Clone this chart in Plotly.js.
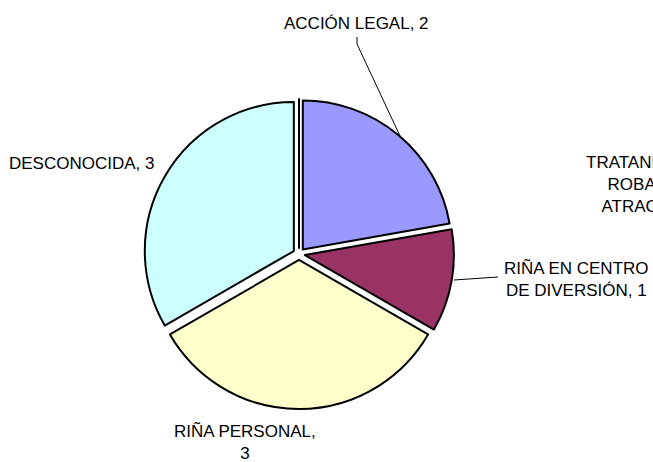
<!DOCTYPE html>
<html>
<head>
<meta charset="utf-8">
<script src="https://cdn.plot.ly/plotly-3.0.1.min.js"></script>
<style>html,body{margin:0;padding:0;background:#fff;}#chart{width:653px;height:462px;}</style>
</head>
<body>
<div id="chart"></div>
<script>
var categories = ["ACCIÓN LEGAL", "RIÑA EN CENTRO DE DIVERSIÓN", "RIÑA PERSONAL", "DESCONOCIDA", "TRATANDO DE ROBAR Y ATRACO"];
var values = [2, 1, 3, 3, 0];
var colors = ["#9999FF", "#993366", "#FFFFCC", "#CCFFFF", "#FF8080"];
// label text with line breaks as laid out in the reference
var labelLines = [
  ["ACCIÓN LEGAL, {v}"],
  ["RIÑA EN CENTRO", "DE DIVERSIÓN, {v}"],
  ["RIÑA PERSONAL,", "{v}"],
  ["DESCONOCIDA, {v}"],
  ["TRATANDO DE", "ROBAR Y", "ATRACO, {v}"]
];
// label anchor positions (pixels in the 653x462 page)
var labelPos = [[357, 23], [576, 279], [245, 442], [82, 163], [645, 185]];

var W = 653, H = 462;
function px(x){ return x / W; }
function py(y){ return 1 - y / H; }

var annotations = categories.map(function(c, i){
  return {
    xref: 'paper', yref: 'paper',
    x: px(labelPos[i][0]), y: py(labelPos[i][1]),
    xanchor: 'center', yanchor: 'middle',
    text: labelLines[i].map(function(s){ return s.replace('{v}', values[i]); }).join('<br>'),
    showarrow: false,
    align: 'center',
    font: {family: 'Liberation Sans, Arial, sans-serif', size: 17, color: '#000'}
  };
});

var shapes = [
  {type: 'path', xref: 'paper', yref: 'paper',
   path: 'M ' + px(357) + ' ' + py(37) + ' L ' + px(357) + ' ' + py(44) + ' L ' + px(400) + ' ' + py(136),
   line: {color: '#000', width: 1}},
  {type: 'line', xref: 'paper', yref: 'paper',
   x0: px(454), y0: py(280), x1: px(498), y1: py(277),
   line: {color: '#000', width: 1}}
];

var trace = {
  type: 'pie',
  labels: categories,
  values: values,
  sort: false,
  direction: 'clockwise',
  rotation: 0,
  pull: 0.04,
  textinfo: 'none',
  hoverinfo: 'label+value',
  marker: {colors: colors, line: {color: '#000', width: 2}},
  domain: {x: [px(144), px(454)], y: [py(409), py(99)]},
  showlegend: false
};

var layout = {
  width: W, height: H,
  margin: {l: 0, r: 0, t: 0, b: 0},
  paper_bgcolor: '#fff',
  plot_bgcolor: '#fff',
  showlegend: false,
  annotations: annotations,
  shapes: shapes
};

Plotly.newPlot('chart', [trace], layout, {displayModeBar: false, staticPlot: true});
</script>
</body>
</html>
